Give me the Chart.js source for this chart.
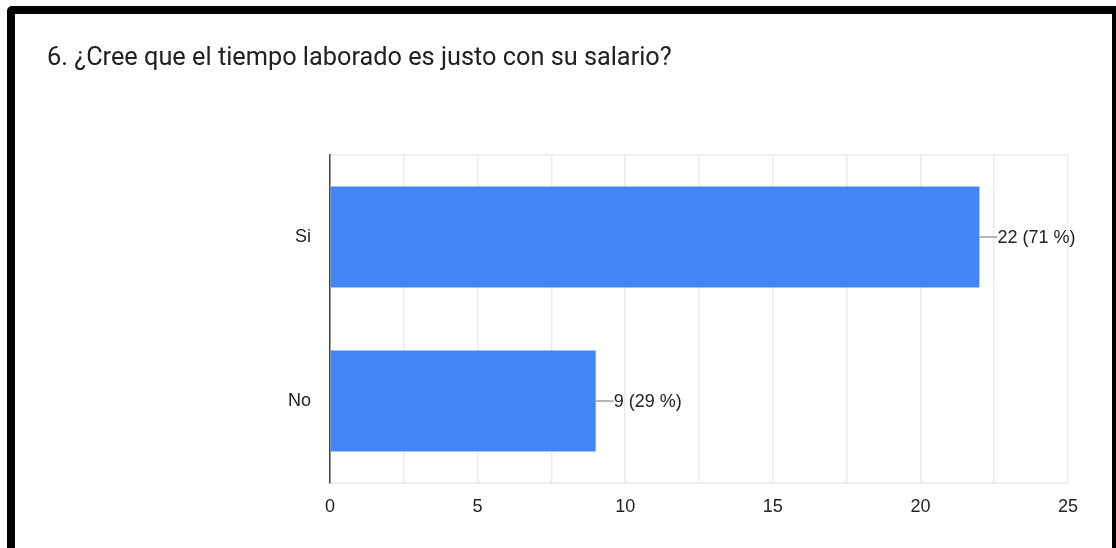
<!DOCTYPE html>
<html>
<head>
<meta charset="utf-8">
<script src="https://cdn.jsdelivr.net/npm/chart.js@4.4.0/dist/chart.umd.min.js"></script>
<style>
  html, body { margin: 0; padding: 0; background: #fff; overflow: hidden; }
  #frame {
    position: absolute; left: 7px; top: 6px;
    width: 1097px; height: 600px;
    border: 8px solid #000; border-radius: 5px;
  }
  #title {
    position: absolute; left: 47px; top: 42px;
    font-family: Roboto, sans-serif; font-size: 25.3px; color: #202124;
    white-space: nowrap;
  }
  canvas { position: absolute; left: 0; top: 0; }
</style>
</head>
<body>
<canvas id="chart" width="1116" height="548"></canvas>
<div id="frame"></div>
<div id="title">6. ¿Cree que el tiempo laborado es justo con su salario?</div>
<script>
const answers = ['Si', 'No'];
const counts = [22, 9];
const xTicks = [0, 5, 10, 15, 20, 25];

const total = counts.reduce((a, b) => a + b, 0);
const font = { family: 'Arial, "Liberation Sans", sans-serif', size: 18 };

// value label with a short leader line after each bar
const valueLabels = {
  id: 'valueLabels',
  afterDatasetsDraw(chart) {
    const ctx = chart.ctx;
    const meta = chart.getDatasetMeta(0);
    ctx.save();
    ctx.font = `${font.size}px ${font.family}`;
    ctx.textBaseline = 'middle';
    meta.data.forEach((bar, i) => {
      const x = bar.x, y = bar.y;
      ctx.strokeStyle = '#9e9e9e';
      ctx.lineWidth = 1.5;
      ctx.beginPath();
      ctx.moveTo(x, y);
      ctx.lineTo(x + 18, y);
      ctx.stroke();
      ctx.fillStyle = '#222';
      const pct = Math.round(counts[i] / total * 100);
      ctx.fillText(`${counts[i]} (${pct} %)`, x + 18, y + 1);
    });
    ctx.restore();
  }
};

new Chart(document.getElementById('chart'), {
  type: 'bar',
  data: {
    labels: answers,
    datasets: [{
      data: counts,
      backgroundColor: '#4285F4',
      borderWidth: 0,
      barPercentage: 0.616,
      categoryPercentage: 1
    }]
  },
  options: {
    indexAxis: 'y',
    responsive: false,
    animation: false,
    layout: { padding: { top: 155, right: 48, left: 0, bottom: 0 } },
    plugins: { legend: { display: false }, tooltip: { enabled: false } },
    scales: {
      x: {
        min: 0,
        max: 25,
        afterFit: (s) => { s.height = 65; },
        afterBuildTicks: (s) => {
          const t = [];
          for (let v = 0; v <= 25; v += 2.5) t.push({ value: v });
          s.ticks = t;
        },
        ticks: {
          color: '#222',
          font,
          padding: 13,
          maxRotation: 0,
          autoSkip: false,
          callback: (v) => xTicks.includes(v) ? String(v) : ''
        },
        grid: { color: '#ebebeb', lineWidth: 1.5, drawTicks: false },
        border: { color: '#ebebeb', width: 1.5 }
      },
      y: {
        afterFit: (s) => { s.width = 330; },
        ticks: { color: '#222', font, padding: 19 },
        grid: {
          offset: true,
          drawTicks: false,
          lineWidth: 1.5,
          color: (c) => c.index === 1 ? 'rgba(0,0,0,0)' : '#ebebeb'
        },
        border: { color: '#444', width: 1.5 }
      }
    }
  },
  plugins: [valueLabels]
});
</script>
</body>
</html>
